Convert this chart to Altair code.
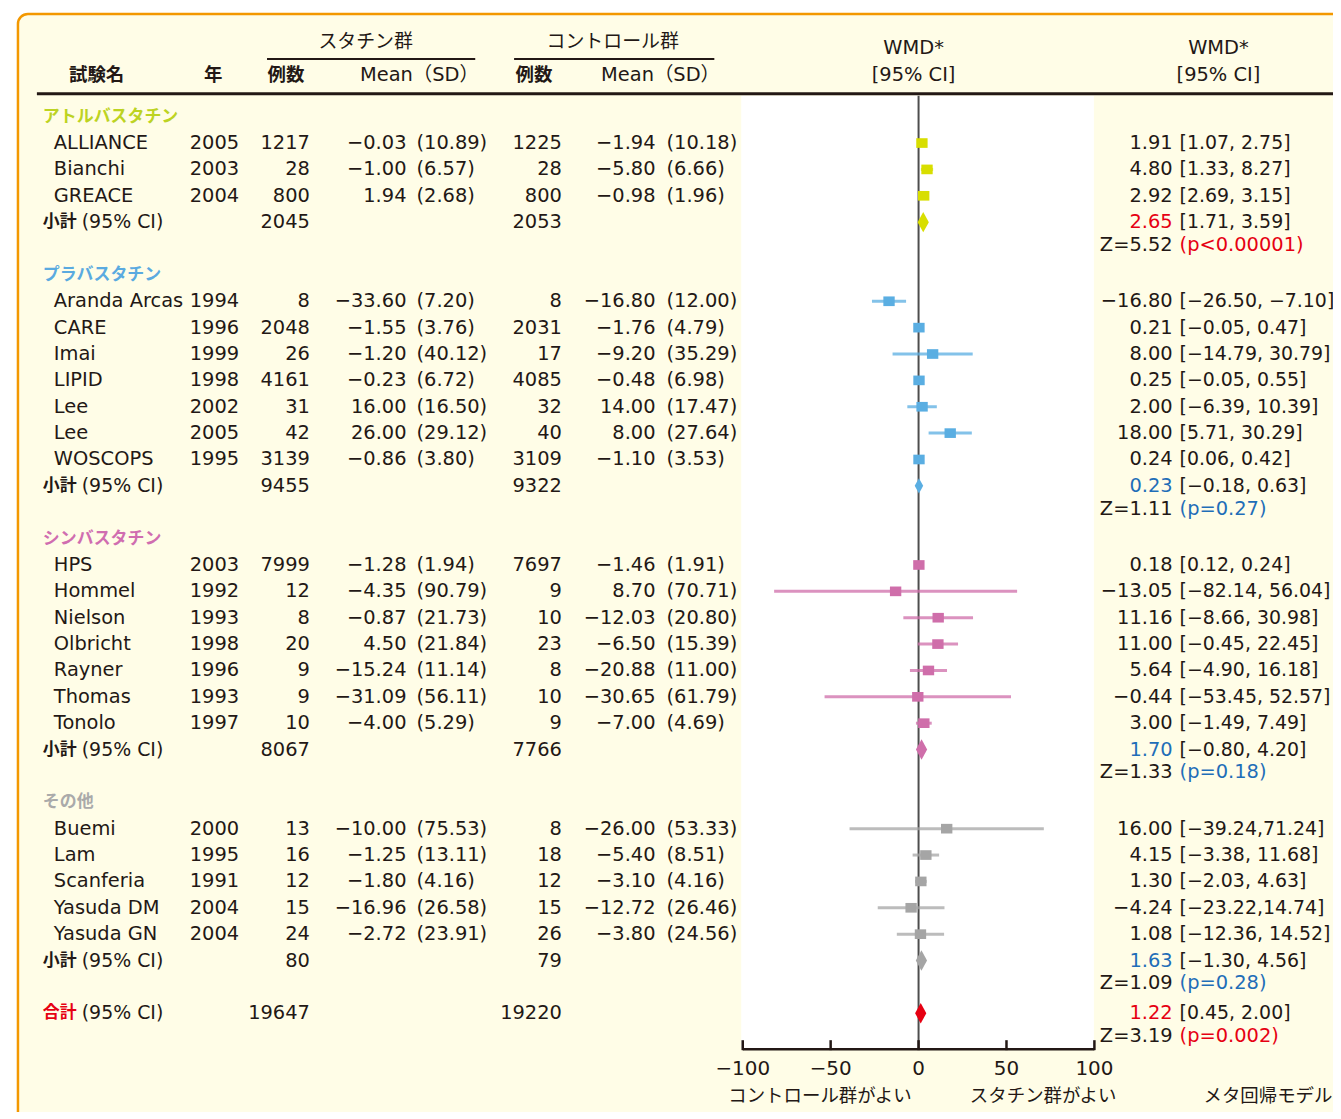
import altair as alt
import pandas as pd

# ---------------- data ----------------
groups = ["アトルバスタチン", "プラバスタチン", "シンバスタチン", "その他"]
trial_group = [0, 0, 0, 1, 1, 1, 1, 1, 1, 1, 2, 2, 2, 2, 2, 2, 2, 3, 3, 3, 3, 3]
trial_names = ["ALLIANCE", "Bianchi", "GREACE", "Aranda Arcas", "CARE", "Imai", "LIPID", "Lee", "Lee",
               "WOSCOPS", "HPS", "Hommel", "Nielson", "Olbricht", "Rayner", "Thomas", "Tonolo",
               "Buemi", "Lam", "Scanferia", "Yasuda DM", "Yasuda GN"]
trial_years = [2005, 2003, 2004, 1994, 1996, 1999, 1998, 2002, 2005, 1995, 2003, 1992, 1993, 1998,
               1996, 1993, 1997, 2000, 1995, 1991, 2004, 2004]
statin_n = [1217, 28, 800, 8, 2048, 26, 4161, 31, 42, 3139, 7999, 12, 8, 20, 9, 9, 10, 13, 16, 12, 15, 24]
statin_mean = [-0.03, -1.00, 1.94, -33.60, -1.55, -1.20, -0.23, 16.00, 26.00, -0.86, -1.28, -4.35, -0.87,
               4.50, -15.24, -31.09, -4.00, -10.00, -1.25, -1.80, -16.96, -2.72]
statin_sd = [10.89, 6.57, 2.68, 7.20, 3.76, 40.12, 6.72, 16.50, 29.12, 3.80, 1.94, 90.79, 21.73, 21.84,
             11.14, 56.11, 5.29, 75.53, 13.11, 4.16, 26.58, 23.91]
ctrl_n = [1225, 28, 800, 8, 2031, 17, 4085, 32, 40, 3109, 7697, 9, 10, 23, 8, 10, 9, 8, 18, 12, 15, 26]
ctrl_mean = [-1.94, -5.80, -0.98, -16.80, -1.76, -9.20, -0.48, 14.00, 8.00, -1.10, -1.46, 8.70, -12.03,
             -6.50, -20.88, -30.65, -7.00, -26.00, -5.40, -3.10, -12.72, -3.80]
ctrl_sd = [10.18, 6.66, 1.96, 12.00, 4.79, 35.29, 6.98, 17.47, 27.64, 3.53, 1.91, 70.71, 20.80, 15.39,
           11.00, 61.79, 4.69, 53.33, 8.51, 4.16, 26.46, 24.56]
wmd = [1.91, 4.80, 2.92, -16.80, 0.21, 8.00, 0.25, 2.00, 18.00, 0.24, 0.18, -13.05, 11.16, 11.00, 5.64,
       -0.44, 3.00, 16.00, 4.15, 1.30, -4.24, 1.08]
ci_low = [1.07, 1.33, 2.69, -26.50, -0.05, -14.79, -0.05, -6.39, 5.71, 0.06, 0.12, -82.14, -8.66, -0.45,
          -4.90, -53.45, -1.49, -39.24, -3.38, -2.03, -23.22, -12.36]
ci_high = [2.75, 8.27, 3.15, -7.10, 0.47, 30.79, 0.55, 10.39, 30.29, 0.42, 0.24, 56.04, 30.98, 22.45,
           16.18, 52.57, 7.49, 71.24, 11.68, 4.63, 14.74, 14.52]
ci_tight = ["Buemi", "Yasuda DM"]  # printed without space after comma

sub_n_statin = [2045, 9455, 8067, 80]
sub_n_ctrl = [2053, 9322, 7766, 79]
sub_wmd = [2.65, 0.23, 1.70, 1.63]
sub_low = [1.71, -0.18, -0.80, -1.30]
sub_high = [3.59, 0.63, 4.20, 4.56]
sub_z = [5.52, 1.11, 1.33, 1.09]
sub_p = ["(p<0.00001)", "(p=0.27)", "(p=0.18)", "(p=0.28)"]

total_label = "合計"
total_n_statin = 19647
total_n_ctrl = 19220
total_wmd = 1.22
total_low = 0.45
total_high = 2.00
total_z = 3.19
total_p = "(p=0.002)"

axis_ticks = [-100, -50, 0, 50, 100]

# ---------------- layout / style ----------------
FONT = "DejaVu Sans"
JFONT = "Noto Sans CJK JP"
MIX = "DejaVu Sans, Noto Sans CJK JP"
INK = "#231815"
RED = "#e60012"
BLUE = "#1f6eb8"
CREAM = "#fffde7"
ORANGE = "#f39800"
marker_colors = ["#d8de00", "#5aaee2", "#cf6eaa", "#a5a5a5", RED]
head_colors = ["#bdd322", "#5aaae0", "#d06db0", "#aaaaaa"]

W, H = 1320, 1100
OX, OY = 18, 12          # page position of plot origin


def px(x):
    return x - OX


def py(y):
    return y - OY


R0, RS = 115, 26.47      # page y of row 0 and row spacing
X0, XS = 922, 1.765      # page x of WMD 0 and px per unit
y_dom = [(OY - R0) / RS, (OY + H - R0) / RS]
x_dom = [(OX - X0) / XS, (OX + W - X0) / XS]
xscale = alt.Scale(domain=x_dom, nice=False, zero=False)
yscale = alt.Scale(domain=y_dom, nice=False, zero=False, reverse=True)
cscale = alt.Scale(domain=groups + [total_label], range=marker_colors)


def fmt(v):
    return f"{v:.2f}".replace("-", "\u2212")


# ---------------- build tables ----------------
trows, srows, hrows = [], [], []
r = 0
for g, gname in enumerate(groups):
    hrows.append(dict(row=r, label=gname, col=head_colors[g]))
    idx = [i for i, gg in enumerate(trial_group) if gg == g]
    for i in idx:
        r += 1
        sep = "," if trial_names[i] in ci_tight else ", "
        trows.append(dict(row=r, name=trial_names[i], year=str(trial_years[i]),
                          n1=str(statin_n[i]), m1=fmt(statin_mean[i]), sd1=f"({statin_sd[i]:.2f})",
                          n2=str(ctrl_n[i]), m2=fmt(ctrl_mean[i]), sd2=f"({ctrl_sd[i]:.2f})",
                          est=wmd[i], lo=ci_low[i], hi=ci_high[i], grp=gname,
                          est_txt=fmt(wmd[i]), ci_txt=f"[{fmt(ci_low[i])}{sep}{fmt(ci_high[i])}]"))
    r += 1
    srows.append(dict(row=r, zrow=r + 0.87, n1=str(sub_n_statin[g]), n2=str(sub_n_ctrl[g]),
                      est=sub_wmd[g], grp=gname, est_txt=fmt(sub_wmd[g]),
                      ci_txt=f"[{fmt(sub_low[g])}, {fmt(sub_high[g])}]",
                      z_txt=f"Z={sub_z[g]:.2f}", p_txt=sub_p[g], lab="小計", lbl="(95% CI)"))
    r += 2
tot_row = r
srows.append(dict(row=tot_row, zrow=tot_row + 0.87, n1=str(total_n_statin), n2=str(total_n_ctrl),
                  est=total_wmd, grp=total_label, est_txt=fmt(total_wmd),
                  ci_txt=f"[{fmt(total_low)}, {fmt(total_high)}]",
                  z_txt=f"Z={total_z:.2f}", p_txt=total_p, lab=total_label, lbl="(95% CI)"))

tdf = pd.DataFrame(trows)
sdf = pd.DataFrame(srows)
hdf = pd.DataFrame(hrows)
one = pd.DataFrame({"a": [0]})
tick_df = pd.DataFrame({"t": axis_ticks, "lab": [str(t).replace("-", "\u2212") for t in axis_ticks]})
axis_df = pd.DataFrame({"lo": [min(axis_ticks)], "hi": [max(axis_ticks)]})
zero_df = pd.DataFrame({"v": [0]})

Y = alt.Y("row:Q", scale=yscale, axis=None)
YZ = alt.Y("zrow:Q", scale=yscale, axis=None)


def col_text(df, field, xpage, align, size=19.5, font=FONT, color=INK, weight="normal", y=Y, cond=None):
    enc = dict(y=y, text=alt.Text(f"{field}:N"))
    if cond is not None:
        enc["color"] = cond
    return alt.Chart(df).mark_text(x=px(xpage), align=align, baseline="middle", fontSize=size,
                                   font=font, fontWeight=weight, color=color).encode(**enc)


def label(text, xpage, ypage, align="center", size=19, font=MIX, weight="normal", color=INK):
    return alt.Chart(one).mark_text(text=text, align=align, baseline="middle", fontSize=size, font=font,
                                    fontWeight=weight, color=color).encode(
        x=alt.value(px(xpage)), y=alt.value(py(ypage)))


def hline(x1, x2, ypage, width=2, color=INK):
    return alt.Chart(one).mark_rule(color=color, strokeWidth=width).encode(
        x=alt.value(px(x1)), x2=alt.value(px(x2)), y=alt.value(py(ypage)))


layers = []
# background frame and white plot panel
layers.append(alt.Chart(one).mark_rect(fill=CREAM, stroke=ORANGE, strokeWidth=2.5, cornerRadius=10).encode(
    x=alt.value(0), x2=alt.value(W + 60), y=alt.value(0), y2=alt.value(H + 60)))
layers.append(alt.Chart(one).mark_rect(fill="white").encode(
    x=alt.value(px(744)), x2=alt.value(px(1098)), y=alt.value(py(94)), y2=alt.value(py(1051))))

# headers
layers += [
    label("スタチン群", 367, 40, font=JFONT),
    label("コントロール群", 615, 40, font=JFONT),
    hline(268, 477, 57), hline(516, 717, 57),
    label("試験名", 97, 73, font=JFONT, weight="bold", size=18.5),
    label("年", 214, 73, font=JFONT, weight="bold", size=18.5),
    label("例数", 287, 73, font=JFONT, weight="bold", size=18.5),
    label("Mean（SD）", 421, 73, size=19.5),
    label("例数", 536, 73, font=JFONT, weight="bold", size=18.5),
    label("Mean（SD）", 663, 73, size=19.5),
    label("WMD*", 917, 46, font=FONT, size=19.5),
    label("[95% CI]", 917, 73, font=FONT, size=19.5),
    label("WMD*", 1223, 46, font=FONT, size=19.5),
    label("[95% CI]", 1223, 73, font=FONT, size=19.5),
    hline(37, 1345, 92, width=3),
]

# zero line
layers.append(alt.Chart(zero_df).mark_rule(color="#4d4d4d", strokeWidth=2).encode(
    x=alt.X("v:Q", scale=xscale, axis=None), y=alt.value(py(94)), y2=alt.value(py(1051))))

# whiskers, squares, diamonds
COL = alt.Color("grp:N", scale=cscale, legend=None)
layers.append(alt.Chart(tdf).mark_rule(strokeWidth=3, opacity=0.75).encode(
    x=alt.X("lo:Q", scale=xscale, axis=None), x2="hi:Q", y=Y, color=COL))
RECT = "M-1,-0.85L1,-0.85L1,0.85L-1,0.85Z"
layers.append(alt.Chart(tdf).mark_point(shape=RECT, filled=True, opacity=1, size=130, strokeWidth=0).encode(
    x=alt.X("est:Q", scale=xscale, axis=None), y=Y, color=COL))
DIAM = "M0,-1L0.55,0L0,1L-0.55,0Z"
layers.append(alt.Chart(sdf).mark_point(shape=DIAM, filled=True, opacity=1, strokeWidth=0).encode(
    x=alt.X("est:Q", scale=xscale, axis=None), y=Y, color=COL,
    size=alt.condition(f"datum.grp == '{groups[1]}'", alt.value(240), alt.value(420))))

# x axis (drawn from the tick list on the WMD scale)
layers.append(alt.Chart(axis_df).mark_rule(color=INK, strokeWidth=2.5).encode(
    x=alt.X("lo:Q", scale=xscale, axis=None), x2="hi:Q", y=alt.value(py(1051))))
layers.append(alt.Chart(tick_df).mark_rule(color=INK, strokeWidth=2.5).encode(
    x=alt.X("t:Q", scale=xscale, axis=None), y=alt.value(py(1042)), y2=alt.value(py(1052))))
layers.append(alt.Chart(tick_df).mark_text(baseline="middle", align="center", fontSize=20, font=FONT,
                                           color=INK).encode(
    x=alt.X("t:Q", scale=xscale, axis=None), y=alt.value(py(1071)), text="lab:N"))
layers += [
    label("コントロール群がよい", 823, 1098, font=JFONT, size=18.5),
    label("スタチン群がよい", 1047, 1098, font=JFONT, size=18.5),
    label("メタ回帰モデル", 1208, 1098, align="left", font=JFONT, size=18.5),
]

# group headers
layers.append(alt.Chart(hdf).mark_text(x=px(43), align="left", baseline="middle", fontSize=17, font=JFONT,
                                       fontWeight="bold").encode(
    y=Y, text="label:N", color=alt.Color("col:N", scale=None)))

# trial table
layers += [
    col_text(tdf, "name", 54, "left"),
    col_text(tdf, "year", 240, "right"),
    col_text(tdf, "n1", 311, "right"),
    col_text(tdf, "m1", 408, "right"),
    col_text(tdf, "sd1", 418, "left"),
    col_text(tdf, "n2", 564, "right"),
    col_text(tdf, "m2", 658, "right"),
    col_text(tdf, "sd2", 669, "left"),
    col_text(tdf, "est_txt", 1177, "right"),
    col_text(tdf, "ci_txt", 1184, "left", size=19),
]

# subtotal / total rows
red_cond = f"datum.grp == '{groups[0]}' || datum.grp == '{total_label}'"
layers += [
    col_text(sdf, "lab", 43, "left", size=17, font=JFONT, weight="bold",
             cond=alt.condition(f"datum.grp == '{total_label}'", alt.value(RED), alt.value(INK))),
    col_text(sdf, "lbl", 82, "left", size=19),
    col_text(sdf, "n1", 311, "right"),
    col_text(sdf, "n2", 564, "right"),
    col_text(sdf, "est_txt", 1177, "right", cond=alt.condition(red_cond, alt.value(RED), alt.value(BLUE))),
    col_text(sdf, "ci_txt", 1184, "left", size=19),
    col_text(sdf, "z_txt", 1177, "right", y=YZ),
    col_text(sdf, "p_txt", 1184, "left", y=YZ, cond=alt.condition(red_cond, alt.value(RED), alt.value(BLUE))),
]

chart = alt.layer(*layers).properties(
    width=W, height=H,
    autosize=alt.AutoSizeParams(type="none"),
    padding={"left": OX - 8, "top": OY - 8, "right": 0, "bottom": 0},
    background="white",
).configure_view(strokeWidth=0)

chart.save("out.html", embed_options={"renderer": "svg", "actions": False})
